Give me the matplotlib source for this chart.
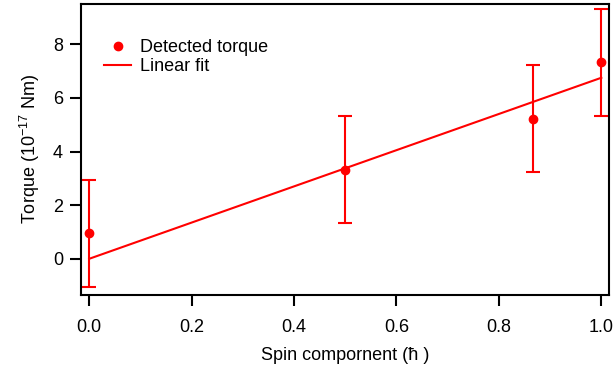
import matplotlib
matplotlib.use("Agg")
import matplotlib.pyplot as plt
from matplotlib.lines import Line2D
import numpy as np

# Daten
spin = [0.0, 0.5, 0.866, 1.0]
torque = [0.95, 3.32, 5.22, 7.33]
torque_err = [2.0, 2.0, 2.0, 2.0]
fit_x = [0.0, 1.0]
fit_slope = 6.75
fit_intercept = 0.0

plt.rcParams["font.family"] = ["Liberation Sans", "DejaVu Sans"]
plt.rcParams["mathtext.default"] = "regular"

fig = plt.figure(figsize=(6.15, 3.69), dpi=100)
ax = fig.add_axes([81 / 615, 1 - 295 / 369, (609 - 81) / 615, (295 - 4) / 369])

red = "#ff0000"
fx = np.array(fit_x)
ax.plot(fx, fit_slope * fx + fit_intercept, color=red, lw=1.5)
ax.errorbar(spin, torque, yerr=torque_err, fmt="o", color=red, ms=6,
            elinewidth=1.5, capsize=5, capthick=1.5)

ax.set_xlim(-0.016, 1.015)
ax.set_ylim(-1.35, 9.5)
ax.set_xticks([0.0, 0.2, 0.4, 0.6, 0.8, 1.0])
ax.set_yticks([0, 2, 4, 6, 8])
ax.tick_params(direction="out", length=8, width=1.5, labelsize=13)
ax.tick_params(axis="x", pad=9)
ax.tick_params(axis="y", pad=5)
for sp in ax.spines.values():
    sp.set_linewidth(1.5)

ax.set_xlabel("Spin compornent (\u0127 )", fontsize=13, labelpad=8)
ax.set_ylabel("Torque (10$^{-17}$ Nm)", fontsize=13, labelpad=8)

handles = [
    Line2D([], [], ls="none", marker="o", color=red, ms=6),
    Line2D([], [], color=red, lw=1.5),
]
ax.legend(handles, ["Detected torque", "Linear fit"], loc="upper left",
          bbox_to_anchor=(0.013, 0.935), frameon=False, fontsize=13,
          handlelength=1.5, handletextpad=0.5, labelspacing=0.12)

fig.savefig("out.png", dpi=100)
